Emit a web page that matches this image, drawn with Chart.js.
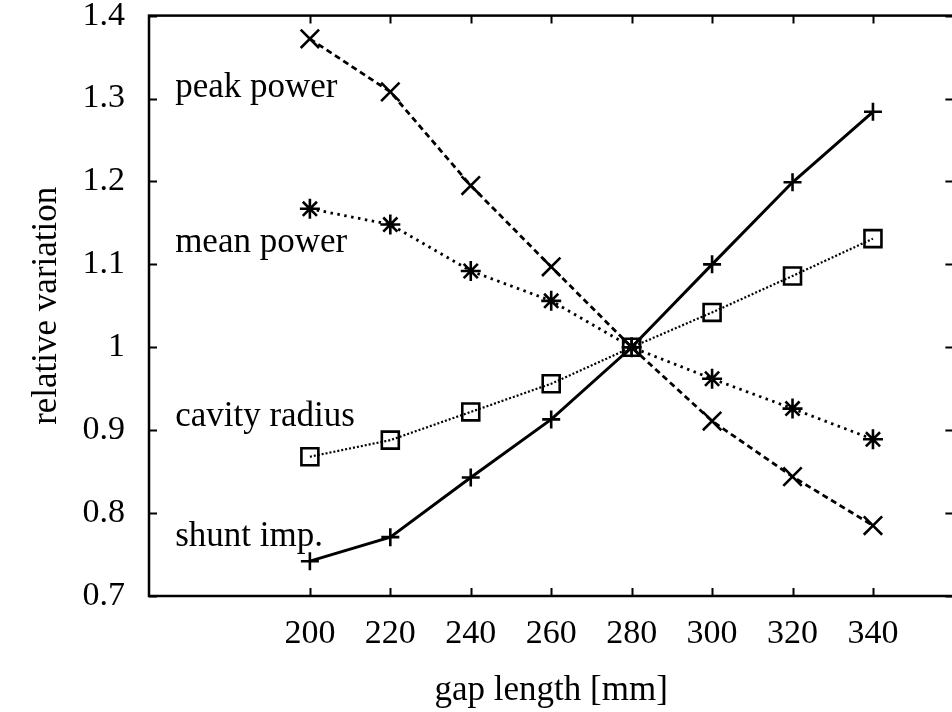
<!DOCTYPE html>
<html>
<head>
<meta charset="utf-8">
<script src="https://cdn.jsdelivr.net/npm/chart.js@4.4.1/dist/chart.umd.min.js"></script>
<style>
  html, body { margin: 0; padding: 0; background: #fff; overflow: hidden; }
  #wrap { width: 969px; height: 712px; }
</style>
</head>
<body>
<div id="wrap"><canvas id="c" width="969" height="712"></canvas></div>
<script>
// ---- data ----
const gapLength = [200, 220, 240, 260, 280, 300, 320, 340];
const xTickValues = [200, 220, 240, 260, 280, 300, 320, 340];
const yTickValues = [0.7, 0.8, 0.9, 1.0, 1.1, 1.2, 1.3, 1.4];
const peakPower    = [1.372, 1.308, 1.195, 1.097, 1.000, 0.911, 0.844, 0.785];
const meanPower    = [1.167, 1.148, 1.092, 1.056, 1.000, 0.962, 0.926, 0.889];
const cavityRadius = [0.868, 0.888, 0.922, 0.956, 1.000, 1.042, 1.086, 1.131];
const shuntImp     = [0.742, 0.771, 0.843, 0.913, 1.000, 1.100, 1.199, 1.284];
const seriesLabels = ['peak power', 'mean power', 'cavity radius', 'shunt imp.'];
// label anchors in data units (x, y of text baseline)
const labelAnchorX = [166.5, 166.5, 166.5, 166.5];
const labelAnchorY = [1.302, 1.1145, 0.905, 0.760];

const FONT = "'Liberation Serif', 'Times New Roman', serif";

function pts(ys) { return gapLength.map((x, i) => ({ x: x, y: ys[i] })); }

const frame = {
  id: 'frame',
  afterDatasetsDraw(chart) {
    const { ctx, chartArea: a, scales } = chart;
    ctx.save();
    ctx.strokeStyle = '#000';
    ctx.lineWidth = 2.5;
    ctx.strokeRect(a.left, a.top, a.right - a.left, a.bottom - a.top);
    const tl = 8;
    ctx.lineWidth = 2;
    ctx.beginPath();
    scales.x.ticks.forEach(t => {
      const px = Math.round(scales.x.getPixelForValue(t.value)) + 0.5;
      ctx.moveTo(px, a.bottom); ctx.lineTo(px, a.bottom - tl);
      ctx.moveTo(px, a.top); ctx.lineTo(px, a.top + tl);
    });
    scales.y.ticks.forEach(t => {
      const py = Math.round(scales.y.getPixelForValue(t.value)) + 0.5;
      ctx.moveTo(a.left, py); ctx.lineTo(a.left + tl, py);
      ctx.moveTo(a.right, py); ctx.lineTo(a.right - tl, py);
    });
    ctx.stroke();
    // series labels
    ctx.fillStyle = '#000';
    ctx.font = '35px ' + FONT;
    ctx.textAlign = 'left';
    ctx.textBaseline = 'alphabetic';
    seriesLabels.forEach((s, i) => {
      ctx.fillText(s, scales.x.getPixelForValue(labelAnchorX[i]), scales.y.getPixelForValue(labelAnchorY[i]));
    });
    ctx.restore();
  }
};

const common = {
  borderColor: '#000',
  pointBorderColor: '#000',
  pointBackgroundColor: 'rgba(0,0,0,0)',
  pointBorderWidth: 2.6,
  pointHoverRadius: 0,
  tension: 0,
  fill: false
};

new Chart(document.getElementById('c'), {
  type: 'line',
  data: {
    datasets: [
      Object.assign({}, common, { label: seriesLabels[0], data: pts(peakPower), borderWidth: 2.8, borderDash: [6, 4], pointStyle: 'crossRot', pointRadius: 13 }),
      Object.assign({}, common, { label: seriesLabels[1], data: pts(meanPower), borderWidth: 2.8, borderDash: [2.5, 4.5], pointStyle: 'star', pointRadius: 10 }),
      Object.assign({}, common, { label: seriesLabels[2], data: pts(cavityRadius), borderWidth: 2.2, borderDash: [2, 2], pointStyle: 'rect', pointRadius: 12 }),
      Object.assign({}, common, { label: seriesLabels[3], data: pts(shuntImp), borderWidth: 3, pointStyle: 'cross', pointRadius: 9 })
    ]
  },
  options: {
    responsive: false,
    animation: false,
    events: [],
    layout: { padding: { top: 15, right: 6, left: 0, bottom: 0 } },
    plugins: { legend: { display: false }, tooltip: { enabled: false } },
    scales: {
      x: {
        type: 'linear',
        min: 160, max: 360,
        afterBuildTicks: s => { s.ticks = xTickValues.map(v => ({ value: v })); },
        afterFit: s => { s.height = 116; s.paddingLeft = 0; s.paddingRight = 0; },
        grid: { display: false, drawTicks: false },
        border: { display: false },
        ticks: { color: '#000', font: { family: FONT, size: 34 }, padding: 18, maxRotation: 0, autoSkip: false,
                 callback: v => String(v) },
        title: { display: true, text: 'gap length [mm]', color: '#000', font: { family: FONT, size: 35 }, padding: { top: 0, bottom: 0 } }
      },
      y: {
        min: 0.7, max: 1.4,
        afterBuildTicks: s => { s.ticks = yTickValues.map(v => ({ value: v })); },
        afterFit: s => { s.width = 149; s.paddingTop = 0; s.paddingBottom = 0; },
        grid: { display: false, drawTicks: false },
        border: { display: false },
        ticks: { color: '#000', font: { family: FONT, size: 34 }, padding: 24, autoSkip: false,
                 callback: v => String(parseFloat(Number(v).toFixed(1))) },
        title: { display: true, text: 'relative variation', color: '#000', font: { family: FONT, size: 35 }, padding: { top: 26, bottom: 0 } }
      }
    }
  },
  plugins: [frame]
});
</script>
</body>
</html>
